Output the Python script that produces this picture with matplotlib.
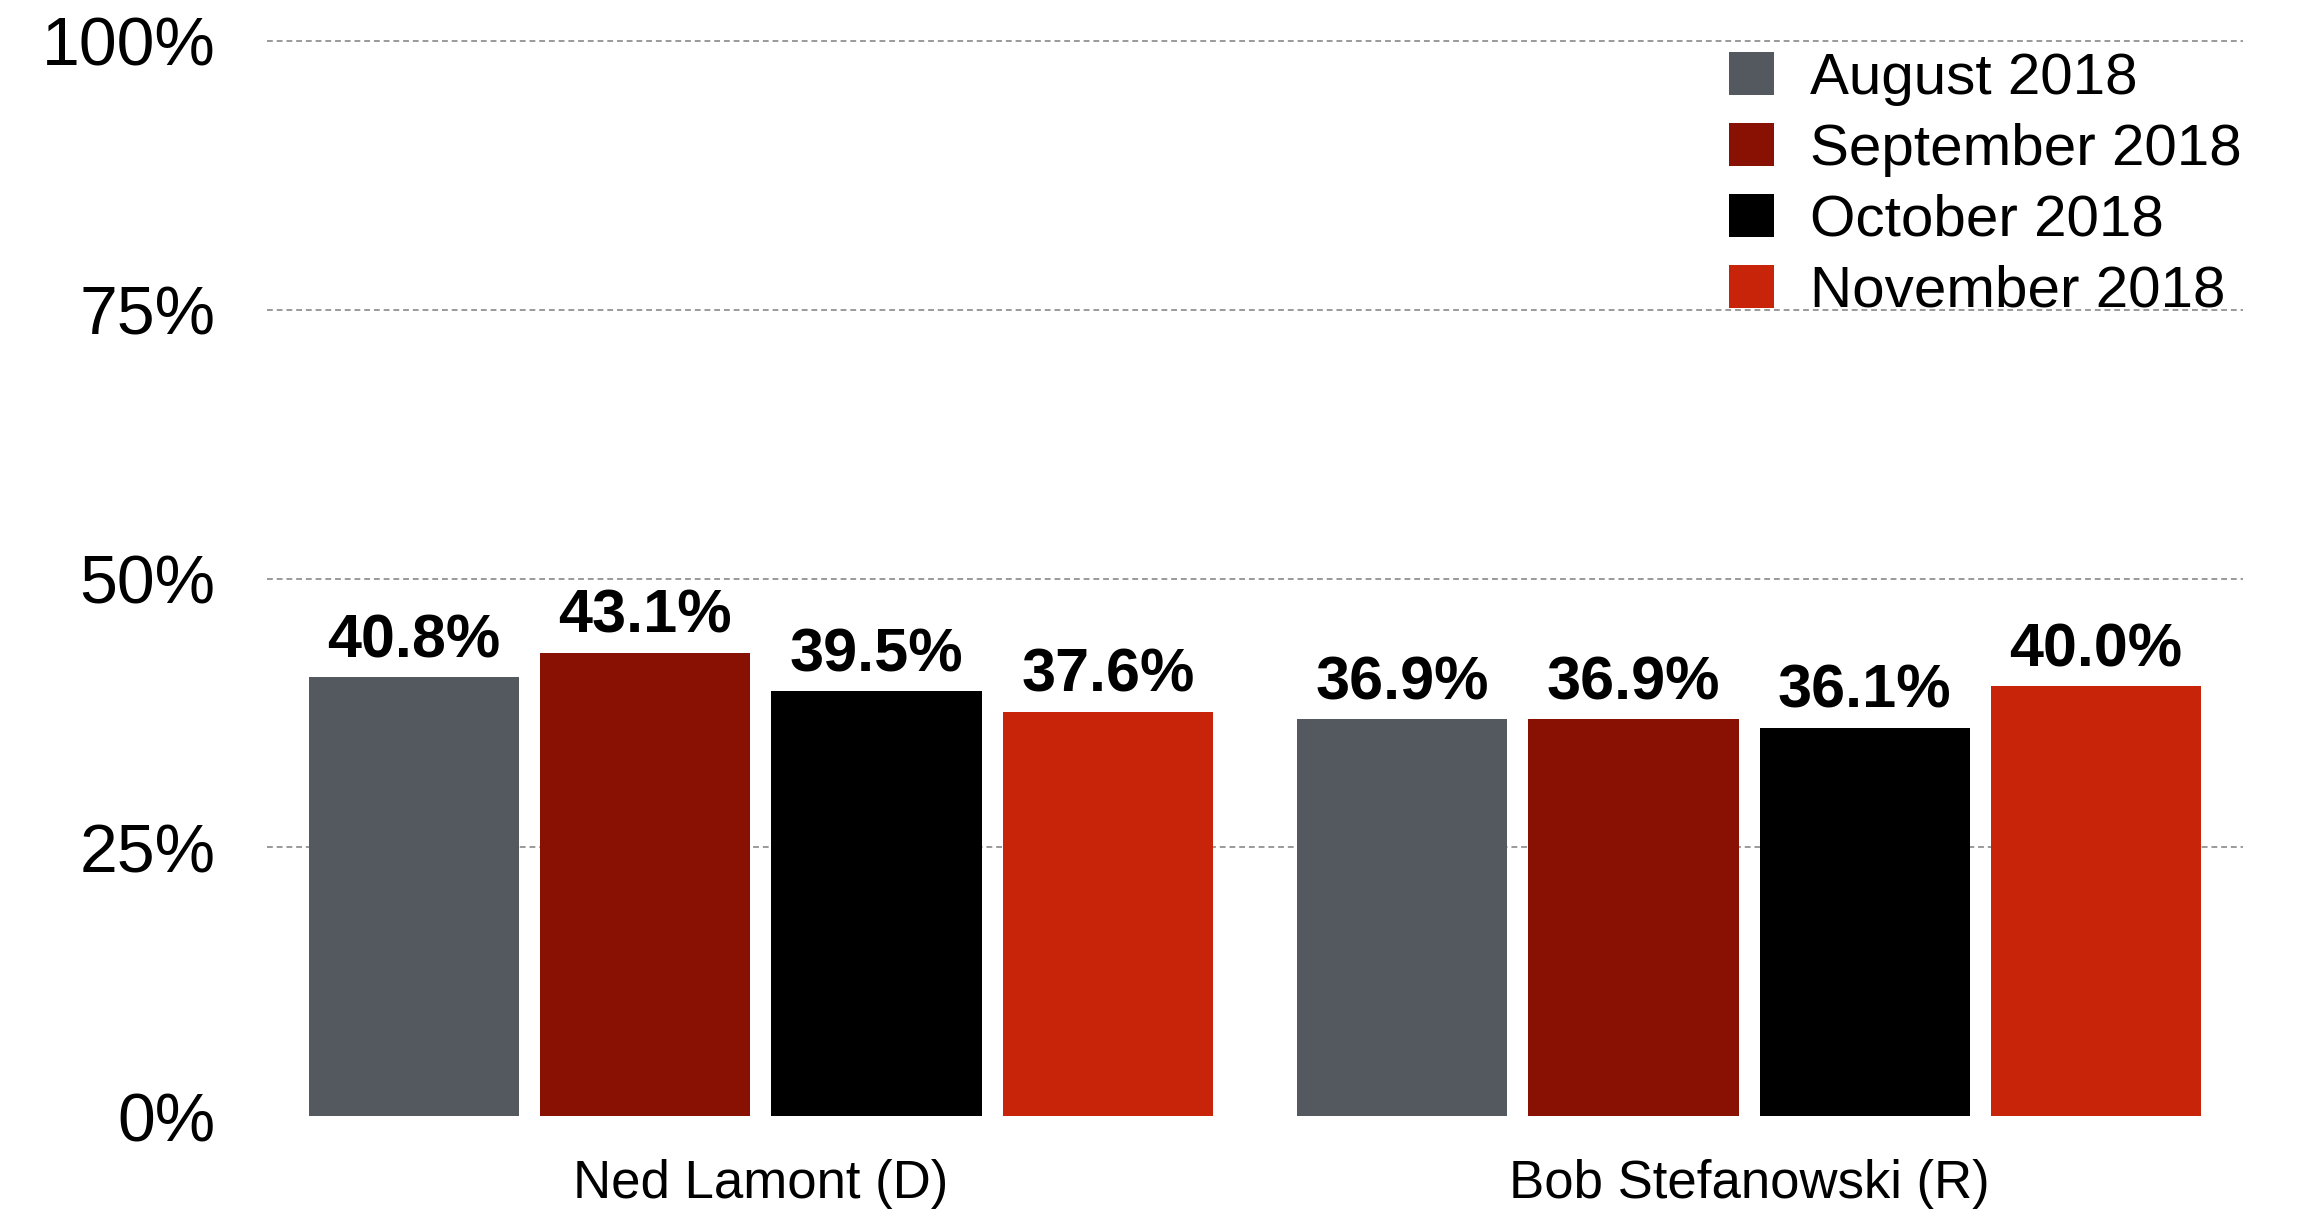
import numpy as np
import matplotlib.pyplot as plt
from matplotlib.patches import Patch

candidates = ['Ned Lamont (D)', 'Bob Stefanowski (R)']
months = ['August 2018', 'September 2018', 'October 2018', 'November 2018']
august = [40.8, 36.9]
september = [43.1, 36.9]
october = [39.5, 36.1]
november = [37.6, 40.0]
colors = ['#54585f', '#881103', '#000000', '#c8240a']
yticks = [0, 25, 50, 75, 100]

plt.rcParams['font.family'] = ['Liberation Sans', 'DejaVu Sans']

fig = plt.figure(figsize=(22.99, 12.09), dpi=100)
ax = fig.add_axes([0.1161, 0.0769, 0.8596, 0.8892])

x = np.arange(len(candidates))
pitch = 0.234
width = 0.2127
series = [august, september, october, november]
for i, vals in enumerate(series):
    pos = x + (i - 1.5) * pitch
    bars = ax.bar(pos, vals, width, color=colors[i], zorder=2)
    for b, v in zip(bars, vals):
        ax.annotate(f'{v:.1f}%', (b.get_x() + b.get_width() / 2, v),
                    xytext=(0, 5), textcoords='offset points',
                    ha='center', va='bottom', fontsize=44, fontweight='bold')

ax.set_xlim(-0.5, 1.5)
ax.set_ylim(0, 100)
ax.set_yticks(yticks)
ax.set_yticklabels([f'{t}%' for t in yticks])
ax.set_xticks(x)
ax.set_xticklabels(candidates)
ax.tick_params(axis='y', length=0, pad=37, labelsize=49)
ax.tick_params(axis='x', length=0, pad=31, labelsize=38)

for t in yticks[1:]:
    ax.axhline(t, color='#9a9a9a', lw=1.4, ls=(0, (3, 2)), zorder=1, clip_on=False)

for s in ax.spines.values():
    s.set_visible(False)

handles = [Patch(facecolor=c) for c in colors]
ax.legend(handles, months, loc='upper left', bbox_to_anchor=(0.74, 0.99),
          frameon=False, fontsize=42, handlelength=0.76, handleheight=0.76,
          handletextpad=0.62, labelspacing=0.29, borderpad=0, borderaxespad=0)

fig.savefig('out.png', dpi=100)
